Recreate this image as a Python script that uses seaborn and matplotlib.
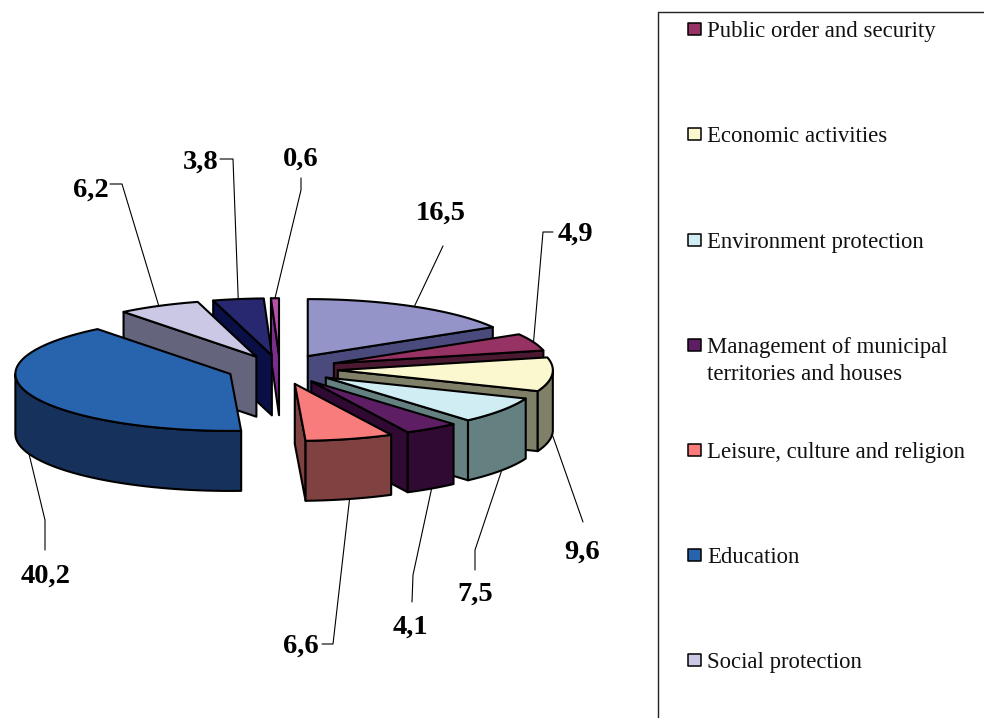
import numpy as np
import matplotlib
matplotlib.use('Agg')
import matplotlib.pyplot as plt
import seaborn as sns

# slice values, clockwise from 12 o'clock
values = [16.5, 4.9, 9.6, 7.5, 4.1, 6.6, 40.2, 6.2, 3.8, 0.6]

# only the first seven names fit in the legend box of the original
legend_names = ['Public order and security', 'Economic activities', 'Environment protection',
                'Management of municipal\nterritories and houses', 'Leisure, culture and religion',
                'Education', 'Social protection']
legend_slices = [1, 2, 3, 4, 5, 6, 7]

top_colors = ['#9494C8', '#963264', '#FBF8CF', '#CFEDF2', '#5E1E64', '#F87C7C', '#2864AE', '#CAC8E4', '#27286F', '#B850A8']
wall_colors = ['#4A4A7D', '#4B1932', '#808068', '#648080', '#300A32', '#804141', '#16325C', '#64647D', '#0A0F46', '#7C2C8C']

# layout of the fake 3d pie, in pixels
CX, CY = 280, 369
RX, RY = 215, 57
DEPTH = 60
EXPLODE = [56, 58, 58, 56, 56, 58, 53, 52, 52, 52]

# label centre, then the elbow of the leader line
label_pos = [(441, 213), (575, 234), (582, 552), (475, 594), (410, 627), (301, 646), (46, 576), (91, 190), (201, 162), (301, 159)]
elbows = [[(443, 246)],
          [(543, 232), (553, 232)],
          [(583, 522)],
          [(475, 550), (475, 570)],
          [(413, 575), (412, 602)],
          [(333, 644), (322, 644)],
          [(45, 520), (45, 550)],
          [(122, 184), (110, 184)],
          [(233, 159), (220, 159)],
          [(301, 190), (301, 178)]]

sns.set_theme(style='white')
plt.rcParams['font.family'] = ['Liberation Serif', 'DejaVu Serif']

fig = plt.figure(figsize=(9.84, 7.18), dpi=100)
ax = fig.add_axes([0, 0, 1, 1])
ax.set_xlim(0, 984)
ax.set_ylim(718, 0)
ax.axis('off')

shares = np.array(values) / np.sum(values) * 360
ends = np.cumsum(shares)
starts = ends - shares
mids = (starts + ends) / 2


def rim(ax0, ay0, deg):
    t = np.radians(deg)
    return ax0 + RX * np.sin(t), ay0 - RY * np.cos(t)


def draw_face(xs, ys, color):
    ax.fill(xs, ys, facecolor=color, edgecolor='black', linewidth=1.5, joinstyle='round')


def radial_wall(ax0, ay0, deg, color):
    x1, y1 = rim(ax0, ay0, deg)
    draw_face([ax0, x1, x1, ax0], [ay0, y1, y1 + DEPTH, ay0 + DEPTH], color)


apexes = []
for i in range(len(values)):
    t = np.radians(mids[i])
    apexes.append((CX + EXPLODE[i] * np.sin(t), CY - EXPLODE[i] * RY / RX * np.cos(t)))

# painter's order, the slices at the back first
for i in np.argsort(-np.cos(np.radians(mids))):
    ax0, ay0 = apexes[i]
    a0, a1 = starts[i], ends[i]

    if a0 >= 180:
        radial_wall(ax0, ay0, a0, wall_colors[i])
    if a1 <= 180:
        radial_wall(ax0, ay0, a1, wall_colors[i])

    # outer wall, just the part which faces the viewer
    lo, hi = max(a0, 90), min(a1, 270)
    if hi > lo:
        xs, ys = rim(ax0, ay0, np.linspace(lo, hi, 40))
        draw_face(np.r_[xs, xs[::-1]], np.r_[ys, ys[::-1] + DEPTH], wall_colors[i])

    xs, ys = rim(ax0, ay0, np.linspace(a0, a1, 60))
    draw_face(np.r_[ax0, xs], np.r_[ay0, ys], top_colors[i])

# value labels with their leader lines
for i, v in enumerate(values):
    x0, y0 = rim(*apexes[i], mids[i])
    if np.cos(np.radians(mids[i])) < 0:
        y0 += DEPTH
    pts = [(x0, y0)] + elbows[i]
    ax.plot([p[0] for p in pts], [p[1] for p in pts], color='black', linewidth=0.8)
    ax.text(label_pos[i][0], label_pos[i][1], f'{v:.1f}'.replace('.', ','), fontsize=20.5, fontweight='bold',
            color='black', ha='center', va='center')

# legend box, the right and bottom sides run off the picture
ax.plot([984, 658, 658], [12, 12, 718], color='#222222', linewidth=1.0, clip_on=False)
rows = [29, 134, 240, 345, 450, 555, 660]
sns.scatterplot(x=[694.5] * len(rows), y=rows, marker='s', s=80, c=[top_colors[i] for i in legend_slices],
                edgecolor='black', linewidth=1.1, legend=False, ax=ax)
for name, y in zip(legend_names, rows):
    ax.text(707, y - 8, name, fontsize=16.4, color='#111111', ha='left', va='top', linespacing=1.39)

ax.set_xlim(0, 984)
ax.set_ylim(718, 0)
ax.set_xlabel('')
ax.set_ylabel('')

fig.savefig('out.png', dpi=100)
